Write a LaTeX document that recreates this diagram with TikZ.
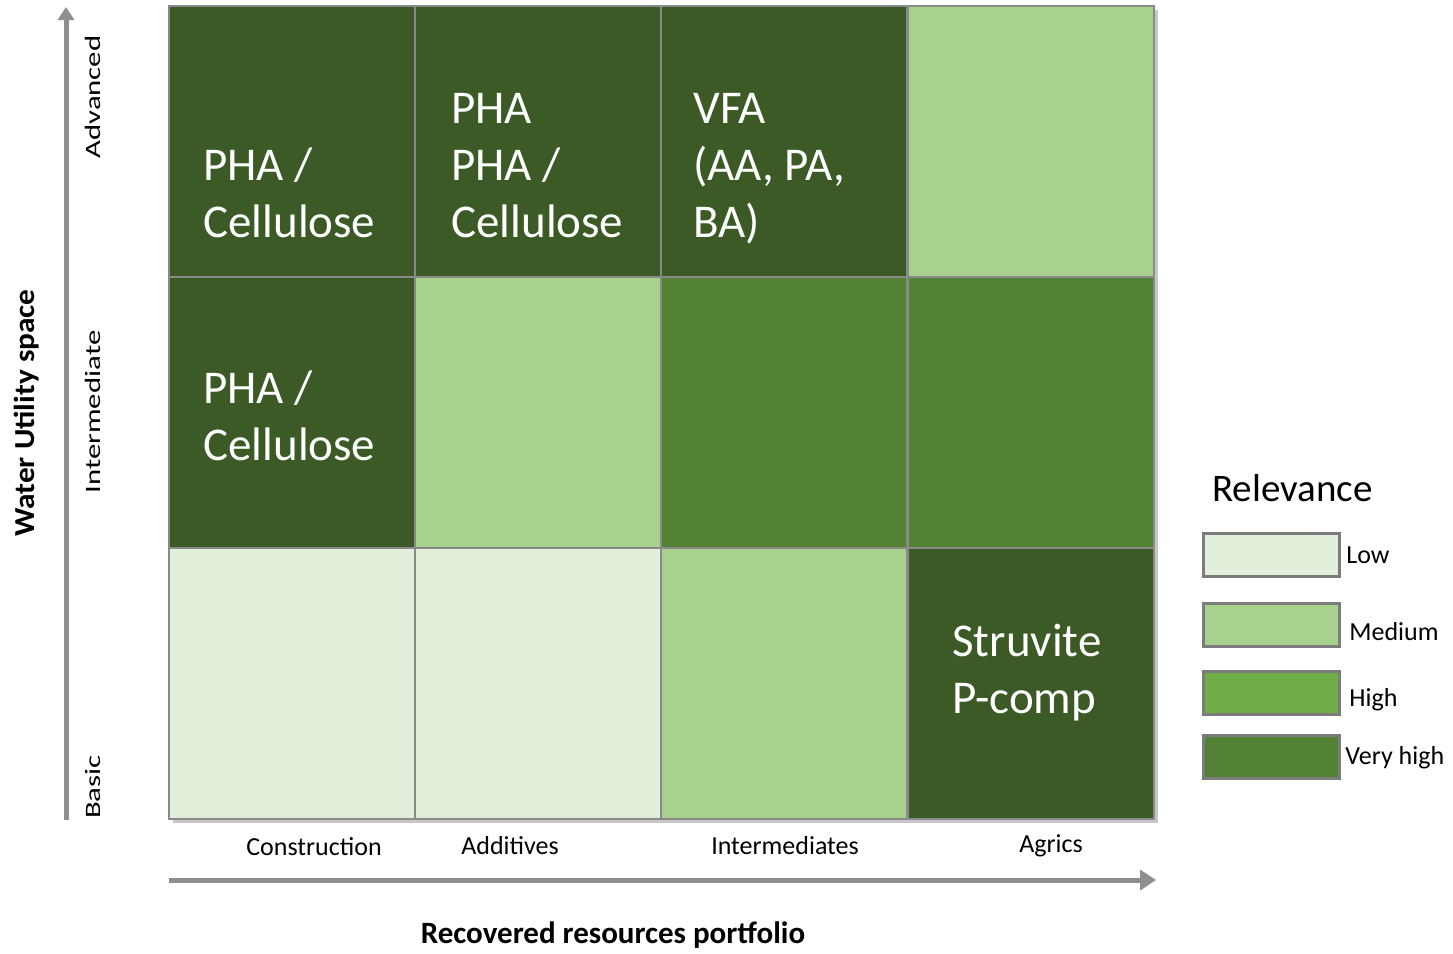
\documentclass[tikz,border=0pt]{standalone}
\usepackage{fontspec}
\setmainfont{Carlito}
\usetikzlibrary{arrows.meta}

\definecolor{cellDark}{HTML}{3B5A25}
\definecolor{cellVeryHigh}{HTML}{548235}
\definecolor{cellHigh}{HTML}{70AD47}
\definecolor{cellMedium}{HTML}{A9D18E}
\definecolor{cellLow}{HTML}{E2EFDA}
\definecolor{axisGray}{HTML}{8F8F8F}
\definecolor{lineGray}{HTML}{8A8A8A}

\begin{document}
\begin{tikzpicture}[x=0.5pt, y=-0.5pt]
    \tikzset{cell/.style={draw=lineGray, line width=1pt, minimum width=123pt, minimum height=135.5pt, inner sep=0pt},
             celltext/.style={text=white, align=left, anchor=base west, inner sep=0pt, font=\fontsize{23.5}{28.5}\selectfont},
             legbox/.style={draw=lineGray!90!black, line width=1.5pt, minimum width=68pt, minimum height=21.5pt, inner sep=0pt},
             leglabel/.style={anchor=west, inner sep=0pt, font=\fontsize{13}{15.6}\selectfont},
             axislabel/.style={inner sep=0pt, font=\fontsize{13}{15.6}\selectfont},
             levellabel/.style={inner sep=0pt, rotate=90, font=\fontsize{11}{13}\selectfont},
             axisarrow/.style={draw=axisGray, line width=2.5pt}}

    \useasboundingbox (0,0) rectangle (1453,954);

    % soft shadow behind the grid
    \fill[black!22] (173,10) rectangle (1158,823);

    % top row: advanced
    \node[cell, fill=cellDark] (adv1) at (292,141.5) {};
    \node[cell, fill=cellDark] (adv2) at (538,141.5) {};
    \node[cell, fill=cellDark] (adv3) at (784,141.5) {};
    \node[cell, fill=cellMedium] (adv4) at (1030.5,141.5) {};

    % middle row: intermediate
    \node[cell, fill=cellDark] (int1) at (292,412.5) {};
    \node[cell, fill=cellMedium] (int2) at (538,412.5) {};
    \node[cell, fill=cellVeryHigh] (int3) at (784,412.5) {};
    \node[cell, fill=cellVeryHigh] (int4) at (1030.5,412.5) {};

    % bottom row: basic
    \node[cell, fill=cellLow] (bas1) at (292,683.5) {};
    \node[cell, fill=cellLow] (bas2) at (538,683.5) {};
    \node[cell, fill=cellMedium] (bas3) at (784,683.5) {};
    \node[cell, fill=cellDark] (bas4) at (1030.5,683.5) {};

    % products in the cells (placed by the baseline of the last line)
    \node[celltext] (txtadv1) at (203,237) {PHA /\\Cellulose};
    \node[celltext] (txtadv2) at (451,237) {PHA\\PHA /\\Cellulose};
    \node[celltext] (txtadv3) at (693,237) {VFA\\(AA, PA,\\BA)};
    \node[celltext] (txtint1) at (203,460) {PHA /\\Cellulose};
    \node[celltext] (txtbas4) at (952,713) {Struvite\\P-comp};

    % axes
    \coordinate (ybot) at (66,820);
    \coordinate (ytop) at (66,7);
    \coordinate (xleft) at (169,880);
    \coordinate (xright) at (1156,880);
    \draw[axisarrow, -{Triangle[length=6.5pt, width=8pt]}] (ybot) -- (ytop);
    \draw[axisarrow, -{Triangle[length=8pt, width=10pt]}] (xleft) -- (xright);

    \node[levellabel] (lvladv) at (93,97) {\scalebox{1.4}[1]{Advanced}};
    \node[levellabel] (lvlint) at (93,412) {\scalebox{1.4}[1]{Intermediate}};
    \node[levellabel] (lvlbas) at (93,787) {\scalebox{1.4}[1]{Basic}};
    \node[inner sep=0pt, rotate=90, font=\bfseries\fontsize{14.5}{17}\selectfont] (ytitle) at (27,413) {\scalebox{1.08}[1]{Water Utility space}};

    \node[axislabel] (colcon) at (314,847) {Construction};
    \node[axislabel] (coladd) at (510,846) {Additives};
    \node[axislabel] (colint) at (785,846) {Intermediates};
    \node[axislabel] (colagr) at (1051,846) {Agrics};
    \node[inner sep=0pt, font=\bfseries\fontsize{15.5}{18}\selectfont] (xtitle) at (613,935) {Recovered resources portfolio};

    % legend
    \node[anchor=west, inner sep=0pt, font=\fontsize{19.5}{23}\selectfont] (legtitle) at (1212,488) {Relevance};
    \node[legbox, fill=cellLow] (leglow) at (1271,555) {};
    \node[legbox, fill=cellMedium] (legmed) at (1271,625) {};
    \node[legbox, fill=cellHigh] (leghigh) at (1271,693) {};
    \node[legbox, fill=cellVeryHigh] (legvhigh) at (1271,757) {};
    \node[leglabel] (lbllow) at (1346,555) {Low};
    \node[leglabel] (lblmed) at (1349,632) {Medium};
    \node[leglabel] (lblhigh) at (1349,700) {High};
    \node[leglabel] (lblvhigh) at (1345,758) {Very high};
\end{tikzpicture}
\end{document}
